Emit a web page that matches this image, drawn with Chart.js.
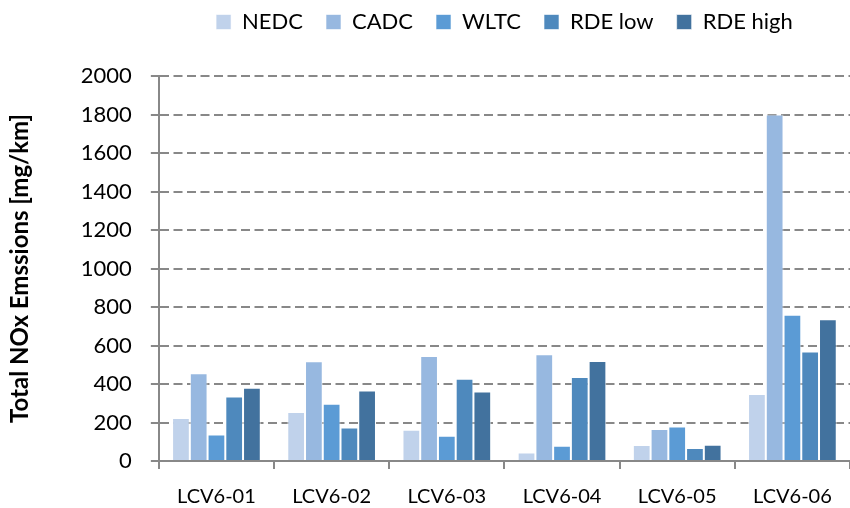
<!DOCTYPE html>
<html>
<head>
<meta charset="utf-8">
<script src="https://cdn.jsdelivr.net/npm/chart.js@4/dist/chart.umd.min.js"></script>
<style>
  html, body { margin: 0; padding: 0; background: #fff; }
  #wrap { width: 850px; height: 508px; }
</style>
</head>
<body>
<div id="wrap"><canvas id="grafico"></canvas></div>
<script>
// valores
var veiculos = ['LCV6-01', 'LCV6-02', 'LCV6-03', 'LCV6-04', 'LCV6-05', 'LCV6-06'];
var nedc = [224, 254, 162, 44, 83, 348];
var cadc = [456, 518, 546, 555, 166, 1800];
var wltc = [138, 297, 131, 79, 179, 760];
var rdeLow = [335, 174, 427, 437, 67, 569];
var rdeHigh = [380, 366, 361, 520, 84, 737];
var rotulosSerie = ['NEDC', 'CADC', 'WLTC', 'RDE low', 'RDE high'];
var cores = ['#c0d2eb', '#97b8e0', '#5b9bd5', '#4e89bd', '#42729e'];

var fonte = 'Lato, "Open Sans", sans-serif';
var series = [nedc, cadc, wltc, rdeLow, rdeHigh];

// espaço extra entre a legenda e a área do gráfico
var margemLegenda = {
    id: 'margemLegenda',
    beforeInit: function(chart) {
        var fitOriginal = chart.legend.fit;
        chart.legend.fit = function() {
            fitOriginal.bind(chart.legend)();
            this.height += 33;
        };
    }
};

var ctx = document.getElementById('grafico').getContext('2d');
var grafico = new Chart(ctx, {
    type: 'bar',
    data: {
        labels: veiculos,
        datasets: series.map(function(valores, i) {
            return {
                label: rotulosSerie[i],
                data: valores,
                backgroundColor: cores[i],
                borderColor: 'rgba(255,255,255,0.6)',
                borderWidth: 1,
                categoryPercentage: 0.77,
                barPercentage: 1.0
            };
        })
    },
    plugins: [margemLegenda],
    options: {
        responsive: true,
        maintainAspectRatio: false,
        animation: false,
        layout: {
            padding: { left: 4, right: 0, top: -12, bottom: -17 }
        },
        plugins: {
            legend: {
                position: 'top',
                fullSize: false,
                labels: {
                    boxWidth: 15,
                    boxHeight: 15,
                    padding: 23,
                    color: '#000',
                    font: { family: fonte, size: 22 }
                }
            },
            tooltip: { enabled: false }
        },
        scales: {
            x: {
                grid: {
                    display: true,
                    drawOnChartArea: false,
                    color: '#888',
                    tickLength: 8,
                    lineWidth: 2
                },
                border: { color: '#888', width: 2 },
                ticks: {
                    color: '#000',
                    padding: 16,
                    font: { family: fonte, size: 20 }
                }
            },
            y: {
                min: 0,
                max: 2000,
                ticks: {
                    stepSize: 200,
                    color: '#000',
                    padding: 19,
                    font: { family: fonte, size: 22 },
                    callback: function(valor) { return String(valor); }
                },
                grid: {
                    color: '#888',
                    lineWidth: 2,
                    tickLength: 8,
                    tickBorderDash: [0, 0],
                    tickColor: '#888'
                },
                border: { color: '#888', width: 2, dash: [9, 4.5] },
                title: {
                    display: true,
                    text: 'Total NOx Emssions [mg/km]',
                    color: '#000',
                    padding: { top: 2, bottom: 27 },
                    font: { family: fonte, size: 24, weight: 'bold' }
                }
            }
        }
    }
});
</script>
</body>
</html>
